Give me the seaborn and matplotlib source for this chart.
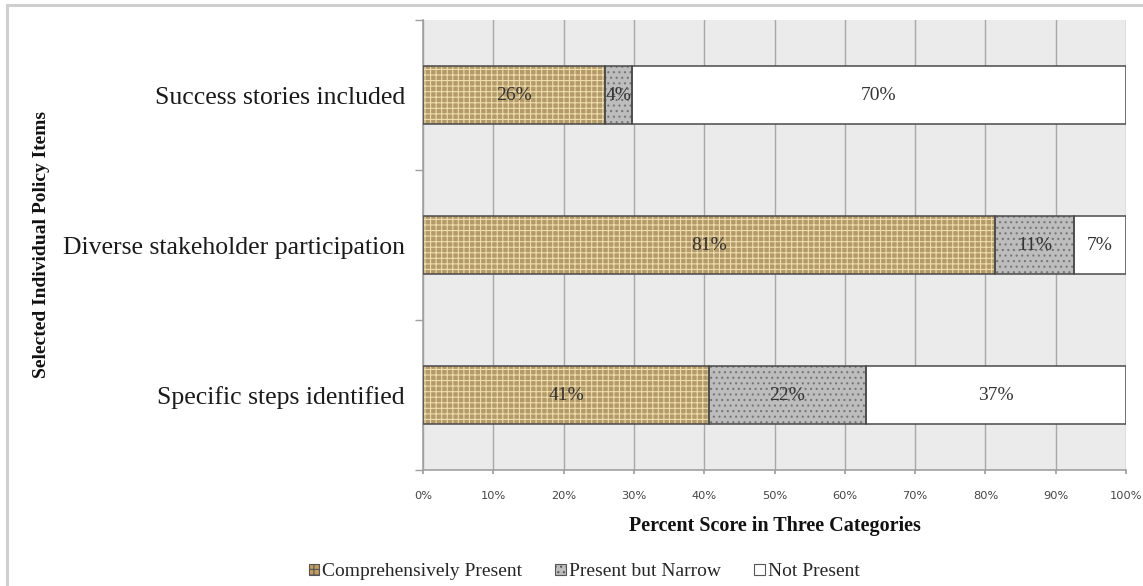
import matplotlib
matplotlib.use("Agg")
import matplotlib.pyplot as plt
from matplotlib.patches import Rectangle, Patch
import numpy as np
import pandas as pd
import seaborn as sns

# Policy items, top to bottom
items = ["Success stories included",
         "Diverse stakeholder participation",
         "Specific steps identified"]

# Percent of documents in each scoring category
comprehensive = [25.9, 81.4, 40.7]
narrow = [3.8, 11.2, 22.3]
not_present = [70.3, 7.4, 37.0]

series_names = ["Comprehensively Present", "Present but Narrow", "Not Present"]
x_ticks = list(range(0, 101, 10))
x_tick_labels = [f"{t}%" for t in x_ticks]

# Fill, texture and texture colour for each category
faces = ["#c29d5c", "#bdbdbd", "#ffffff"]
hatches = ["+++", "...", ""]
hatch_colors = ["#eddcac", "#767676", "#ffffff"]

sns.set_theme(style="white")
plt.rcParams["font.family"] = ["Liberation Serif", "DejaVu Serif"]
plt.rcParams["hatch.linewidth"] = 0.8

fig = plt.figure(figsize=(11.43, 5.86), dpi=100)
ax = fig.add_axes([423 / 1143, 1 - 470 / 586, (1126 - 423) / 1143, (470 - 20) / 586])
ax.set_facecolor("#ebebeb")

values = [comprehensive, narrow, not_present]
left = np.zeros(len(items))
bar_w = 0.39
for name, vals, fc, hc, h in zip(series_names, values, faces, hatch_colors, hatches):
    df = pd.DataFrame({"item": items, "pct": vals})
    # textured fill
    sns.barplot(data=df, y="item", x="pct", order=items, orient="y", ax=ax,
                left=left, width=bar_w, color=fc, hatch=h, edgecolor=hc,
                linewidth=0, errorbar=None, zorder=2)
    # outline and value labels
    sns.barplot(data=df, y="item", x="pct", order=items, orient="y", ax=ax,
                left=left, width=bar_w, fill=False, color="#4a4a4a",
                linewidth=1.1, errorbar=None, zorder=3)
    cont = ax.containers[-1]
    ax.bar_label(cont, labels=[f"{v:.0f}%" for v in vals], label_type="center",
                 fontsize=14, color="#333333", zorder=4)
    left = left + np.array(vals)

ax.set_xlim(0, 100)
ax.set_ylim(2.5, -0.5)
ax.set_xticks(x_ticks)
ax.set_xticklabels(x_tick_labels, family="DejaVu Sans", fontsize=8.2, color="#444444")
ax.xaxis.grid(True, color="#a8a8a8", linewidth=1)
ax.set_axisbelow(True)
ax.tick_params(axis="x", bottom=True, length=3, color="#a0a0a0", pad=12)

# category labels at centres, tick marks at category boundaries
ax.set_yticks(range(len(items)))
ax.set_yticklabels(items, fontsize=18.5, color="#1a1a1a")
ax.tick_params(axis="y", which="major", left=False, length=0, pad=13)
ax.set_yticks(np.arange(-0.5, len(items), 1.0), minor=True)
ax.tick_params(axis="y", which="minor", left=True, length=6, color="#a0a0a0", width=1)

for s in ["top", "right"]:
    ax.spines[s].set_visible(False)
for s in ["left", "bottom"]:
    ax.spines[s].set_color("#a0a0a0")
    ax.spines[s].set_linewidth(1.2)

ax.set_xlabel("Percent Score in Three Categories", fontsize=14.5, fontweight="bold",
              color="#111111", labelpad=11)
ax.set_ylabel("")
fig.text(42 / 1143, 1 - 245 / 586, "Selected Individual Policy Items", rotation=90,
         ha="center", va="center", fontsize=14, fontweight="bold", color="#111111")

handles = [Patch(facecolor=fc, hatch=h, edgecolor="#555555", linewidth=0.8)
           for fc, h in zip(faces, hatches)]
fig.legend(handles, series_names, loc="center", bbox_to_anchor=(584 / 1143, 1 - 572 / 586),
           ncol=3, frameon=False, fontsize=14, handlelength=0.55, handleheight=0.55,
           handletextpad=0.15, columnspacing=1.7)

# light frame around the figure
fig.patches.append(Rectangle((7 / 1143, -0.05), 1.1, 1 - 5 / 586 + 0.05,
                             transform=fig.transFigure, fill=False,
                             edgecolor="#cfcfcf", linewidth=2.2))

fig.savefig("out.png", dpi=100, facecolor="white")
